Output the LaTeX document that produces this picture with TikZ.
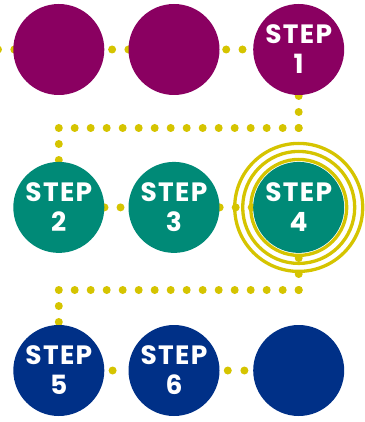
\documentclass[tikz,border=0pt]{standalone}
\usepackage{fontspec}
\setsansfont[LetterSpace=5]{Poppins}
\usetikzlibrary{backgrounds}
\definecolor{plum}{HTML}{8A0061}
\definecolor{jade}{HTML}{008A77}
\definecolor{navy}{HTML}{003087}
\definecolor{mustard}{HTML}{D5C400}
\begin{document}
\begin{tikzpicture}[x=1pt,y=-1pt,
      blob/.style={circle,fill=#1,minimum size=91pt,inner sep=0pt,text=white,align=center,font=\sffamily\bfseries\fontsize{26.5}{30}\selectfont},
      dots/.style={mustard,line width=8pt,line cap=round,dash pattern=on 0pt off 16pt},
      halo/.style={draw=mustard,line width=3.3pt}]
      \useasboundingbox (0,0) rectangle (364,422);
      % row one
      \node[blob=plum] (blankA) at (58.8,49.5) {};
      \node[blob=plum] (blankB) at ([xshift=69.5pt]blankA.east) {};
      \node[blob=plum] (step1) at ([xshift=79pt]blankB.east) {STEP\\1};
      % row two
      \node[blob=jade] (step2) at (58.8,207.4) {STEP\\2};
      \node[blob=jade] (step3) at ([xshift=69.5pt]step2.east) {STEP\\3};
      \node[blob=jade] (step4) at ([xshift=79pt]step3.east) {STEP\\4};
      % row three
      \node[blob=navy] (step5) at (58.8,370.5) {STEP\\5};
      \node[blob=navy] (step6) at ([xshift=69.5pt]step5.east) {STEP\\6};
      \node[blob=navy] (blankC) at ([xshift=79pt]step6.east) {};
      % rings round step 4
      \foreach \r in {48,56,64}
        \draw[halo] (step4) circle[radius=\r pt];
      % dotted trail
      \coordinate (lead) at (-2,49.5);
      \coordinate (bendA) at (step1 |- 0,128);
      \coordinate (bendB) at (step2 |- 0,128);
      \coordinate (bendC) at (step4 |- 0,290);
      \coordinate (bendD) at (step5 |- 0,290);
      \begin{scope}[on background layer]
        \draw[dots,dash pattern=on 0pt off 16.3pt] (lead) -- (step1);
        \draw[dots] (bendA) -- (step1);
        \draw[dots] (bendA) -- (bendB);
        \draw[dots] (bendB) -- (step2);
        \draw[dots] (step2) -- (step3);
        \draw[dots] (step3) -- (step4);
        \draw[dots] (bendC) -- (step4);
        \draw[dots] (bendC) -- (bendD);
        \draw[dots] (bendD) -- (step5);
        \draw[dots,dash pattern=on 0pt off 16.6pt,dash phase=8.5pt] (step5) -- (step6) -- (blankC);
      \end{scope}
    \end{tikzpicture}
\end{document}
